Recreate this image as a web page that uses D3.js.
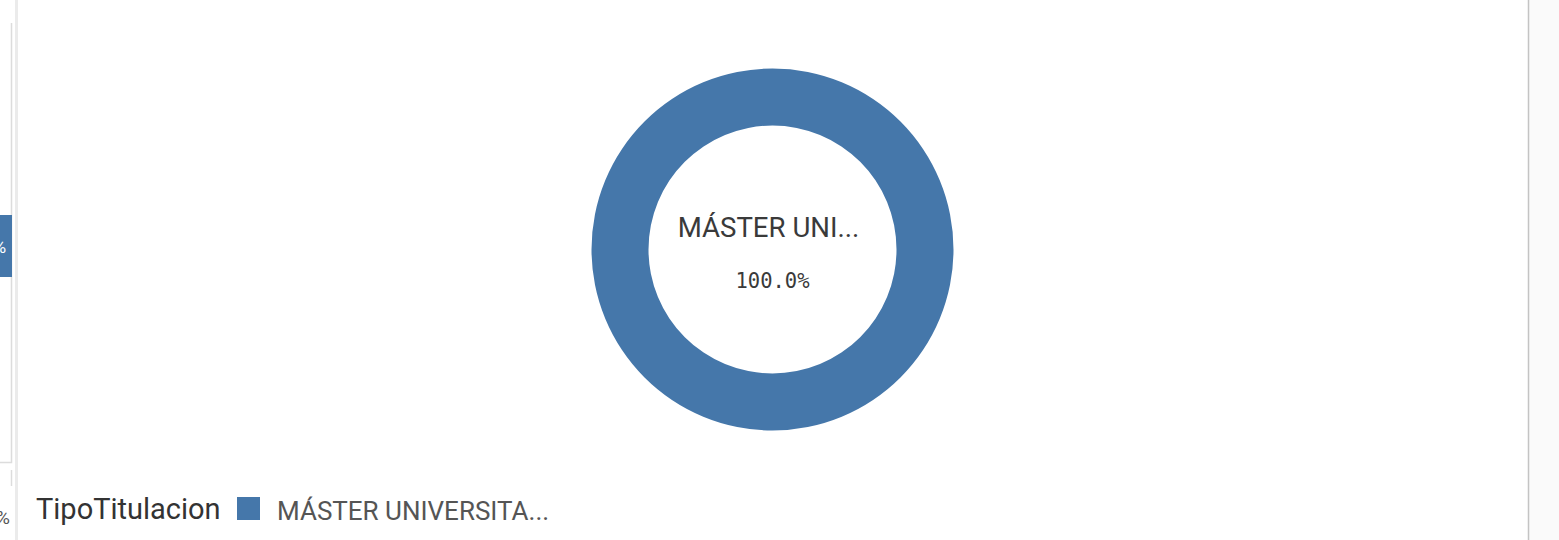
<!DOCTYPE html>
<html>
<head>
<meta charset="utf-8">
<script src="https://cdn.jsdelivr.net/npm/d3@7"></script>
<style>
  html, body { margin: 0; padding: 0; background: #ffffff; }
  svg { display: block; }
</style>
</head>
<body>
<svg id="chart" width="1559" height="540"></svg>
<script>
// ---- data ----
const categories = ["MÁSTER UNIVERSITARIO"];
const values = [100];
const legendTitle = "TipoTitulacion";
const colors = ["#4577aa"];

const W = 1559, H = 540;
const svg = d3.select("#chart");

// right neighbouring panel edge
svg.append("rect").attr("x", 1529).attr("y", 0).attr("width", W - 1529).attr("height", H).attr("fill", "#fafafa");
svg.append("line").attr("x1", 1528.5).attr("x2", 1528.5).attr("y1", 0).attr("y2", H)
  .attr("stroke", "#c4c4c4").attr("stroke-width", 1.5);

// left neighbouring panel fragments
svg.append("rect").attr("x", 15).attr("y", 0).attr("width", 3).attr("height", H).attr("fill", "#ebebeb");
svg.append("path").attr("d", "M11.5,23 V462.5 H0").attr("fill", "none").attr("stroke", "#dcdcdc").attr("stroke-width", 1.5);
svg.append("line").attr("x1", 11.5).attr("x2", 11.5).attr("y1", 470).attr("y2", 486)
  .attr("stroke", "#dcdcdc").attr("stroke-width", 1.5);
svg.append("rect").attr("x", 0).attr("y", 215).attr("width", 12).attr("height", 62).attr("fill", colors[0]);
svg.append("text").attr("x", -7).attr("y", 253).attr("font-family", "Roboto, sans-serif")
  .attr("font-size", 18).attr("fill", "#ffffff").text("%");
svg.append("text").attr("x", -4).attr("y", 524).attr("font-family", "Roboto, sans-serif")
  .attr("font-size", 19).attr("fill", "#555").text("%");

// ---- donut ----
const cx = 772.5, cy = 249.5, rOuter = 181, rInner = 124;
const total = d3.sum(values);
const pie = d3.pie().sort(null).value(d => d)(values);
const arc = d3.arc().innerRadius(rInner).outerRadius(rOuter);
const color = d3.scaleOrdinal().domain(categories).range(colors);

const g = svg.append("g").attr("transform", `translate(${cx},${cy})`);
g.selectAll("path").data(pie).join("path")
  .attr("d", arc)
  .attr("fill", (d, i) => color(categories[i]));

const trunc = (s, n) => s.length > n ? s.slice(0, n) + "..." : s;
const pct = d3.format(".1%");

g.append("text").attr("x", -4).attr("y", 237 - cy).attr("text-anchor", "middle")
  .attr("font-family", "Roboto, sans-serif").attr("font-size", 27.6).attr("fill", "#3a3a3a")
  .text(trunc(categories[0], 10));
g.append("text").attr("x", 0).attr("y", 288 - cy).attr("text-anchor", "middle")
  .attr("font-family", "'DejaVu Sans Mono', monospace").attr("font-size", 20.5).attr("fill", "#3a3a3a")
  .text(pct(values[0] / total));

// ---- legend ----
const lg = svg.append("g");
lg.append("text").attr("x", 36).attr("y", 519).attr("font-family", "Roboto, sans-serif")
  .attr("font-size", 29).attr("fill", "#333").text(legendTitle);
categories.forEach((c, i) => {
  lg.append("rect").attr("x", 237).attr("y", 497).attr("width", 23).attr("height", 23).attr("fill", color(c));
  lg.append("text").attr("x", 277).attr("y", 519.5).attr("font-family", "Roboto, sans-serif")
    .attr("font-size", 26).attr("fill", "#555").text(trunc(c, 17));
});
</script>
</body>
</html>
